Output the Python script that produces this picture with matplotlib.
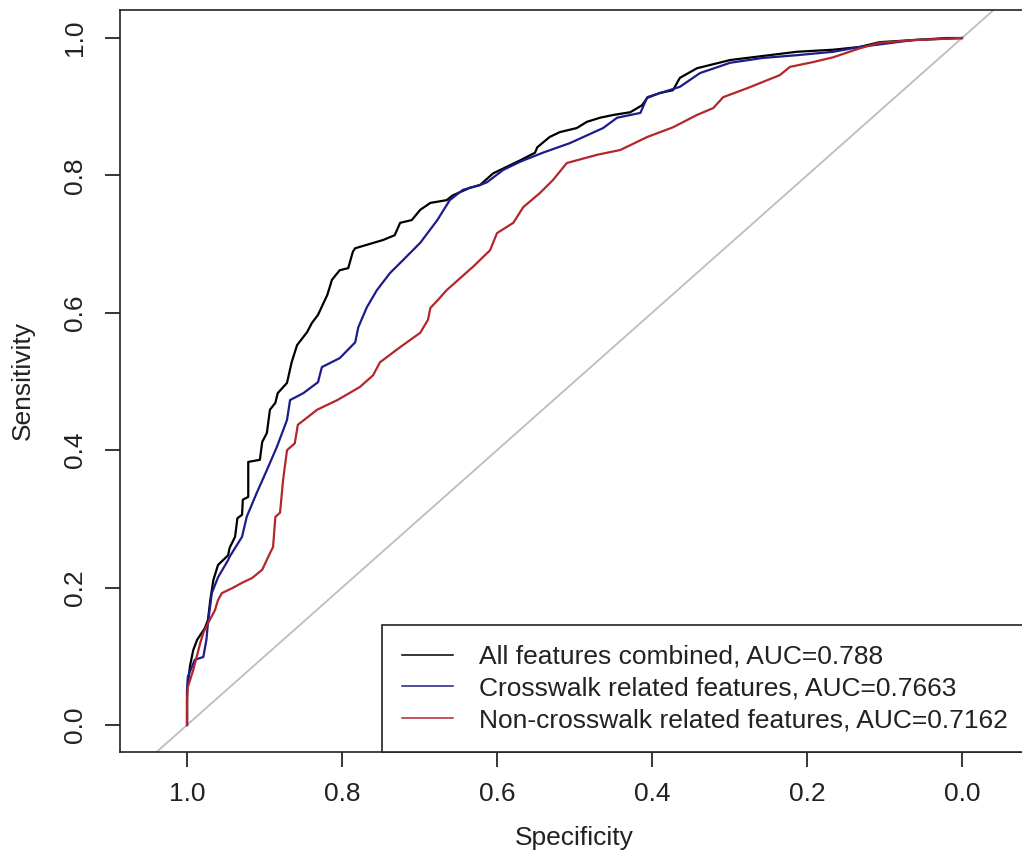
import matplotlib
matplotlib.use('Agg')
import matplotlib.pyplot as plt

plt.rcParams['font.family'] = ['Liberation Sans', 'DejaVu Sans']
plt.rcParams['font.size'] = 19

# ROC curves: (specificity, sensitivity)
all_spec = [1.000, 1.000, 0.996, 0.992, 0.987, 0.977, 0.973, 0.970, 0.966, 0.960, 0.947, 0.945,
            0.938, 0.935, 0.929, 0.928, 0.921, 0.921, 0.906, 0.903, 0.897, 0.893, 0.886, 0.883,
            0.871, 0.865, 0.858, 0.845, 0.839, 0.831, 0.819, 0.813, 0.803, 0.792, 0.786, 0.783,
            0.768, 0.747, 0.732, 0.725, 0.710, 0.699, 0.686, 0.665, 0.657, 0.635, 0.622, 0.605,
            0.570, 0.551, 0.548, 0.532, 0.519, 0.497, 0.484, 0.467, 0.450, 0.428, 0.413, 0.406,
            0.390, 0.373, 0.364, 0.342, 0.299, 0.213, 0.166, 0.132, 0.106, 0.063, 0.019, 0.000]
all_sens = [0.000, 0.051, 0.087, 0.109, 0.124, 0.141, 0.153, 0.182, 0.211, 0.233, 0.247, 0.258,
            0.274, 0.301, 0.306, 0.328, 0.332, 0.383, 0.386, 0.412, 0.425, 0.459, 0.469, 0.483,
            0.498, 0.528, 0.553, 0.572, 0.585, 0.597, 0.626, 0.648, 0.662, 0.665, 0.689, 0.694,
            0.699, 0.706, 0.713, 0.731, 0.735, 0.750, 0.760, 0.764, 0.771, 0.782, 0.786, 0.803,
            0.822, 0.833, 0.841, 0.856, 0.863, 0.869, 0.878, 0.884, 0.888, 0.892, 0.902, 0.913,
            0.920, 0.924, 0.942, 0.956, 0.968, 0.980, 0.983, 0.987, 0.994, 0.997, 1.000, 1.000]

cw_spec = [1.000, 1.000, 0.999, 0.990, 0.979, 0.975, 0.973, 0.968, 0.960, 0.947, 0.945, 0.929,
           0.923, 0.910, 0.897, 0.884, 0.871, 0.867, 0.850, 0.831, 0.826, 0.803, 0.783, 0.779,
           0.768, 0.755, 0.738, 0.721, 0.699, 0.677, 0.661, 0.644, 0.622, 0.613, 0.592, 0.570,
           0.541, 0.506, 0.463, 0.445, 0.415, 0.406, 0.364, 0.338, 0.299, 0.257, 0.213, 0.166,
           0.132, 0.063, 0.000]
cw_sens = [0.000, 0.051, 0.070, 0.095, 0.099, 0.124, 0.148, 0.192, 0.215, 0.240, 0.245, 0.274,
           0.303, 0.338, 0.371, 0.405, 0.444, 0.473, 0.483, 0.499, 0.521, 0.534, 0.557, 0.579,
           0.608, 0.633, 0.658, 0.677, 0.702, 0.735, 0.764, 0.779, 0.786, 0.790, 0.808, 0.820,
           0.833, 0.847, 0.869, 0.884, 0.891, 0.914, 0.929, 0.949, 0.964, 0.971, 0.975, 0.980,
           0.987, 0.997, 1.000]

ncw_spec = [1.000, 1.000, 0.999, 0.992, 0.983, 0.979, 0.973, 0.964, 0.960, 0.955, 0.942, 0.929,
            0.916, 0.903, 0.893, 0.889, 0.886, 0.880, 0.876, 0.871, 0.861, 0.857, 0.832, 0.806,
            0.777, 0.760, 0.751, 0.725, 0.699, 0.689, 0.686, 0.676, 0.665, 0.631, 0.609, 0.600,
            0.579, 0.566, 0.545, 0.528, 0.510, 0.471, 0.441, 0.406, 0.373, 0.342, 0.321, 0.308,
            0.277, 0.235, 0.222, 0.192, 0.166, 0.132, 0.106, 0.063, 0.000]
ncw_sens = [0.000, 0.036, 0.055, 0.080, 0.119, 0.134, 0.148, 0.167, 0.182, 0.192, 0.199, 0.207,
            0.214, 0.226, 0.250, 0.259, 0.303, 0.309, 0.357, 0.400, 0.410, 0.437, 0.459, 0.473,
            0.492, 0.509, 0.528, 0.550, 0.571, 0.590, 0.607, 0.619, 0.633, 0.667, 0.691, 0.716,
            0.731, 0.754, 0.774, 0.793, 0.818, 0.830, 0.837, 0.856, 0.870, 0.888, 0.898, 0.914,
            0.927, 0.946, 0.958, 0.965, 0.972, 0.985, 0.993, 0.997, 1.000]

labels = ["All features combined, AUC=0.788",
          "Crosswalk related features, AUC=0.7663",
          "Non-crosswalk related features, AUC=0.7162"]
colors = ["black", "#1c1c8a", "#b3262c"]
ticks = [1.0, 0.8, 0.6, 0.4, 0.2, 0.0]

fig = plt.figure(figsize=(10.22, 8.56), dpi=100)
# plot box runs a little past the right edge of the picture, like the cropped original
ax = fig.add_axes([120 / 1022, 1 - 752 / 856, 909 / 1022, 742 / 856])

ax.axline((1, 0), (0, 1), color="#bdbdbd", lw=1.3, zorder=1)

curves = [(all_spec, all_sens), (cw_spec, cw_sens), (ncw_spec, ncw_sens)]
for (sp, se), c, lab in zip(curves, colors, labels):
    ax.plot(sp, se, color=c, lw=1.6, label=lab, zorder=2)

ax.set_xlim(1.0865, -0.0865)
ax.set_ylim(-0.0393, 1.0408)
ax.set_xticks(ticks)
ax.set_yticks(ticks)
ax.set_xticklabels(["%.1f" % t for t in ticks])
ax.set_yticklabels(["%.1f" % t for t in ticks], rotation=90, va='center')
ax.tick_params(axis='x', length=10.5, width=1.1, pad=11, colors='black')
ax.tick_params(axis='y', length=10.5, width=1.1, pad=13.5, colors='black')
ax.tick_params(labelcolor='#222222')
for s in ax.spines.values():
    s.set_linewidth(1.2)
    s.set_color('#222222')

ax.set_xlabel("Specificity", va='center', color='#222222')
ax.xaxis.set_label_coords(0.5, -0.116)
ax.set_ylabel("Sensitivity", va='center', color='#222222')
ax.yaxis.set_label_coords(-0.107, 0.5)

leg = ax.legend(loc='lower left', bbox_to_anchor=(0.2882, 0.0, 0.7118, 0.2), mode='expand',
                borderaxespad=0, borderpad=0.75, handlelength=1.93, handletextpad=1.0,
                labelspacing=0.29, fancybox=False, framealpha=1, edgecolor='#222222')
leg.get_frame().set_linewidth(1.2)
for h in leg.get_lines():
    h.set_linewidth(1.1)
for t in leg.get_texts():
    t.set_color('#222222')

fig.savefig("out.png", dpi=100)
